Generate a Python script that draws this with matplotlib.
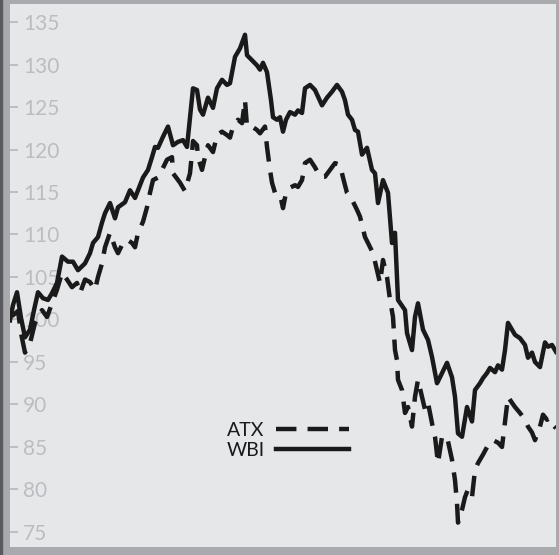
import matplotlib
matplotlib.use('Agg')
import matplotlib.pyplot as plt
from matplotlib.ticker import FixedLocator
from matplotlib.patches import Rectangle

# index series, time steps along the x axis
wbi_t = [0, 3, 7, 11, 15, 20, 24, 28, 33, 38, 42, 47, 52, 58, 63, 68, 75, 80, 83, 88,
         92, 95, 100, 105, 108, 115, 120, 125, 128, 133, 138, 142, 145, 148, 153, 158, 163, 168, 173, 177,
         180, 183, 187, 190, 193, 198, 203, 207, 212, 217, 220, 225, 230, 235, 237, 242, 247, 250, 253, 257,
         261, 263, 267, 270, 273, 276, 280, 285, 288, 292, 295, 300, 305, 312, 317, 322, 327, 332, 335, 338,
         342, 345, 348, 352, 357, 362, 365, 368, 373, 378, 382, 385, 388, 395, 397, 402, 405, 408, 413, 418,
         422, 427, 430, 437, 442, 445, 448, 452, 457, 462, 465, 470, 473, 477, 480, 485, 488, 492, 495, 498,
         502, 505, 510, 515, 518, 522, 525, 530, 535, 538, 542, 546]
wbi = [99.9, 101.7, 103.2, 100.2, 97.9, 98.8, 101.1, 103.2, 102.5, 102.3, 103.1, 104.3, 107.4, 106.8, 106.8, 105.8, 106.6, 107.8, 109.0, 109.7,
       111.4, 112.5, 113.7, 111.9, 113.2, 113.8, 115.2, 114.3, 115.2, 116.7, 117.6, 119.1, 120.3, 120.2, 121.5, 122.7, 120.5, 120.9, 121.1, 120.3,
       123.8, 127.2, 127.0, 124.7, 124.1, 126.1, 124.9, 127.2, 128.2, 127.6, 127.8, 130.9, 131.9, 133.5, 131.1, 130.5, 129.9, 129.4, 130.2, 129.1,
       125.8, 123.8, 123.5, 123.8, 122.1, 123.5, 124.4, 124.1, 124.6, 124.3, 127.2, 127.6, 127.0, 125.2, 126.1, 126.8, 127.6, 126.8, 125.8, 124.1,
       123.5, 122.3, 122.1, 119.4, 120.2, 117.6, 117.2, 113.7, 116.4, 114.9, 109.0, 110.2, 102.3, 101.1, 98.4, 96.4, 100.3, 101.9, 98.8, 97.6,
       95.6, 92.5, 93.2, 94.9, 93.2, 90.9, 86.6, 86.2, 89.7, 88.0, 91.7, 92.5, 93.1, 93.7, 94.3, 93.8, 94.6, 94.1, 96.4, 99.6,
       98.8, 98.2, 97.8, 97.0, 95.5, 96.1, 95.0, 94.4, 97.3, 96.8, 97.0, 96.2]

atx_t = [2, 8, 11, 15, 20, 25, 32, 37, 42, 47, 52, 57, 62, 67, 70, 75, 80, 85, 88, 92,
         95, 100, 105, 108, 113, 117, 122, 125, 128, 133, 137, 140, 143, 148, 152, 157, 162, 163, 170, 175,
         180, 182, 183, 187, 188, 192, 195, 198, 203, 207, 212, 217, 220, 223, 228, 232, 235, 237, 242, 247,
         250, 255, 257, 260, 262, 265, 270, 273, 276, 280, 285, 288, 292, 295, 300, 305, 310, 315, 320, 325,
         330, 333, 337, 342, 347, 350, 355, 358, 363, 367, 370, 373, 377, 380, 383, 385, 387, 388, 392, 395,
         398, 402, 405, 408, 412, 415, 418, 422, 425, 428, 432, 437, 442, 445, 447, 448, 452, 455, 458, 462,
         465, 468, 473, 478, 480, 483, 488, 492, 495, 498, 502, 505, 510, 515, 518, 522, 525, 530, 533, 537,
         540, 543, 546]
atx = [100.4, 101.0, 98.4, 96.1, 97.2, 99.6, 101.1, 100.3, 101.9, 103.5, 105.5, 104.7, 103.8, 104.3, 103.1, 104.7, 104.4, 103.5, 105.0, 106.6,
       108.5, 110.2, 108.5, 107.8, 109.0, 109.4, 109.0, 108.5, 110.2, 111.5, 113.2, 114.9, 116.4, 116.7, 117.6, 118.8, 119.1, 117.2, 116.1, 115.1,
       117.2, 119.6, 121.0, 120.5, 119.1, 117.6, 119.1, 120.5, 119.7, 121.7, 122.1, 121.7, 121.4, 122.7, 123.5, 123.1, 125.8, 122.7, 122.7, 122.3,
       121.9, 122.7, 120.3, 117.6, 116.1, 114.9, 114.7, 113.1, 114.9, 115.5, 115.8, 115.6, 116.4, 118.4, 118.8, 117.9, 116.8, 116.8, 117.6, 118.4,
       118.2, 116.7, 114.9, 114.1, 112.9, 112.1, 109.7, 109.0, 107.8, 105.8, 104.3, 107.0, 105.0, 102.3, 100.3, 96.4, 95.2, 92.9, 91.7, 89.0,
       89.7, 87.4, 90.9, 92.9, 90.9, 89.4, 90.2, 87.8, 86.2, 83.1, 86.2, 86.2, 83.5, 81.1, 78.4, 76.1, 77.6, 79.1, 80.0, 79.1,
       82.3, 83.1, 84.1, 85.2, 85.5, 85.8, 85.5, 85.0, 87.9, 90.9, 90.2, 89.7, 89.0, 88.2, 87.4, 86.7, 85.8, 87.4, 88.8, 88.2,
       88.4, 87.6, 87.2]

yticks = [75, 80, 85, 90, 95, 100, 105, 110, 115, 120, 125, 130, 135]

border = '#a9aaae'
panel = '#e6e7e9'
light = '#bcbdc1'
ink = '#1a1a1a'

fig = plt.figure(figsize=(5.59, 5.55), dpi=100, facecolor=border)
# thin dark edge on the far left of the frame
fig.patches.append(Rectangle((0, 0), 2 / 559, 1, transform=fig.transFigure,
                             color='#5a5a5e', zorder=0))
ax = fig.add_axes([10 / 559, 8 / 555, 546 / 559, 543 / 555])
ax.set_facecolor(panel)
for s in ax.spines.values():
    s.set_visible(False)

ax.plot(wbi_t, wbi, color=ink, lw=3.2, solid_joinstyle='round', label='WBI', zorder=3)
ax.plot(atx_t, atx, color=ink, lw=3.2, dashes=(4.6, 2.5), label='ATX', zorder=3)

ax.set_xlim(0, 546)
ax.set_ylim(73.23, 137.12)
ax.set_xticks([])
ax.yaxis.set_major_locator(FixedLocator(yticks))
ax.tick_params(axis='y', direction='in', length=5.8, width=1.4, color=light,
               labelcolor=light, labelsize=15, pad=-9.5)
for lab in ax.get_yticklabels():
    lab.set_horizontalalignment('left')
    lab.set_fontfamily(['Lato', 'DejaVu Sans'])

# legend: labels on the left of the line samples
h, l = ax.get_legend_handles_labels()
leg = fig.legend(h[::-1], l[::-1], loc='center', bbox_to_anchor=(0.515, 0.2063),
                 frameon=False, markerfirst=False, handlelength=3.75, handletextpad=0.6,
                 labelspacing=0.15, borderpad=0, prop={'family': ['Lato', 'DejaVu Sans'], 'size': 14})
for t in leg.get_texts():
    t.set_color(ink)

fig.savefig('out.png', dpi=100, facecolor=border)
